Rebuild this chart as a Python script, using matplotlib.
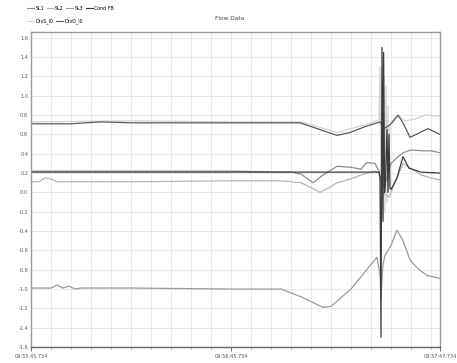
import matplotlib
matplotlib.use("Agg")
import matplotlib.pyplot as plt
from matplotlib.lines import Line2D

plt.rcParams["axes.unicode_minus"] = False

title = "Flow Data"
series_names = ["SL1", "SL2", "SL3", "Cond FB", "DrvS_I0", "DrvD_I0"]
x_tick_labels = ["09:55:45.734", "09:56:45.734", "09:57:47.734"]
x_tick_pos = [0, 10, 20.45]
y_ticks = [1.6, 1.4, 1.2, 1.0, 0.8, 0.6, 0.4, 0.2, 0.0, -0.2, -0.4, -0.6,
           -0.8, -1.0, -1.2, -1.4, -1.6]

# SL1 (medium gray, around 0.2, ends near 0.4)
sl1_x = [0, 1.0, 5, 10, 13.0, 13.5, 14.1, 14.6, 15.3, 16.0, 16.5, 16.8, 17.2, 17.4,
         17.6, 17.8, 18.0, 18.3, 18.6, 19.0, 19.6, 20.0, 20.45]
sl1_y = [0.22, 0.22, 0.22, 0.22, 0.21, 0.19, 0.1, 0.18, 0.27, 0.26, 0.24, 0.31, 0.3, 0.22,
         0.05, 0.15, 0.3, 0.36, 0.41, 0.44, 0.43, 0.43, 0.41]
# SL2 (light gray, around 0.11)
sl2_x = [0, 0.4, 0.7, 1.0, 1.3, 1.6, 5, 10, 12.5, 13.5, 14.0, 14.45, 15.0, 15.3, 16.0,
         16.5, 17.2, 17.4, 17.6, 17.9, 18.2, 18.6, 19.0, 19.5, 20.0, 20.45]
sl2_y = [0.11, 0.11, 0.15, 0.14, 0.11, 0.11, 0.11, 0.12, 0.12, 0.1, 0.05, 0.0, 0.06, 0.1,
         0.14, 0.18, 0.22, 0.2, 0.0, -0.05, 0.1, 0.3, 0.25, 0.18, 0.15, 0.13]
# SL3 (medium gray, around -1.0)
sl3_x = [0, 1.0, 1.3, 1.6, 1.9, 2.2, 2.5, 5, 10, 12.5, 13.5, 14.6, 15.0, 16.0, 17.3,
         17.45, 17.5, 17.55, 17.6, 17.7, 18.0, 18.3, 18.6, 18.95, 19.4, 19.8, 20.45]
sl3_y = [-0.99, -0.99, -0.96, -0.99, -0.97, -1.0, -0.99, -0.99, -1.0, -1.0, -1.08, -1.19,
         -1.18, -1.0, -0.67, -0.85, -1.1, -0.9, -0.75, -0.65, -0.55, -0.39, -0.5, -0.7,
         -0.8, -0.86, -0.89]
# Cond FB (dark, flat 0.21 with big spike)
cfb_x = [0, 5, 10, 15, 17.4, 17.45, 17.5, 17.55, 17.6, 17.63, 17.68, 17.72, 17.8, 17.85,
         17.9, 17.95, 18.0, 18.3, 18.6, 18.9, 19.5, 20.45]
cfb_y = [0.21, 0.21, 0.21, 0.21, 0.21, 0.15, -1.5, 1.5, -0.3, 1.45, 0.0, 0.1, 0.65, 0.0,
         0.6, 0.05, 0.03, 0.15, 0.37, 0.25, 0.21, 0.2]
# DrvS_I0 (very light, near top line, fast oscillation at the event)
drs_x = [0, 5, 10, 13.5, 14.5, 15.3, 16.0, 16.7, 17.4, 17.45, 17.5, 17.55, 17.6, 17.65,
         17.7, 17.75, 17.8, 17.85, 17.9, 17.95, 18.1, 18.35, 18.7, 19.2, 19.7, 20.45]
drs_y = [0.73, 0.74, 0.73, 0.73, 0.67, 0.62, 0.66, 0.7, 0.75, 1.3, -0.3, 1.25, -0.25,
         1.2, -0.2, 1.1, -0.1, 0.9, 0.0, 0.7, 0.72, 0.8, 0.74, 0.76, 0.8, 0.79]
# DrvD_I0 (dark, top line around 0.72)
drd_x = [0, 2.0, 3.5, 5, 8.5, 12.5, 13.45, 14.45, 15.3, 15.95, 16.7, 17.45, 17.65, 17.95,
         18.35, 18.6, 18.95, 19.45, 19.85, 20.25, 20.45]
drd_y = [0.71, 0.71, 0.73, 0.72, 0.72, 0.72, 0.72, 0.65, 0.59, 0.62, 0.68, 0.73, 0.66, 0.7,
         0.8, 0.72, 0.57, 0.62, 0.66, 0.62, 0.6]

colors = ["#8c8c8c", "#b4b4b4", "#9a9a9a", "#3c3c3c", "#d2d2d2", "#5a5a5a"]
xs = [sl1_x, sl2_x, sl3_x, cfb_x, drs_x, drd_x]
ys = [sl1_y, sl2_y, sl3_y, cfb_y, drs_y, drd_y]

fig = plt.figure(figsize=(4.57, 3.63), dpi=100)
ax = fig.add_axes([31 / 457, 1 - 347 / 363, (440 - 31) / 457, (347 - 32) / 363])

draw_order = [4, 1, 0, 2, 5, 3]
for i in draw_order:
    ax.plot(xs[i], ys[i], color=colors[i], lw=0.9)

ax.set_xlim(0, 20.45)
ax.set_ylim(-1.6, 1.66)
ax.set_yticks(y_ticks)
ax.set_yticklabels([f"{v:.1f}" for v in y_ticks])
ax.set_xticks(x_tick_pos)
ax.set_xticklabels(x_tick_labels)
ax.set_xticks(list(range(0, 21)), minor=True)
ax.set_yticks([], minor=True)
ax.grid(True, which="both", axis="x", color="#e6e6e6", lw=0.6)
ax.grid(True, which="major", axis="y", color="#e6e6e6", lw=0.6)
ax.set_axisbelow(True)
ax.tick_params(axis="both", which="major", labelsize=3.6, colors="#555555", length=3,
               width=0.6, pad=2)
ax.tick_params(axis="x", which="minor", length=1.5, width=0.5, color="#888888")
ax.tick_params(axis="y", length=0)
for s in ax.spines.values():
    s.set_color("#9a9a9a")
    s.set_linewidth(1.0)
ax.spines["bottom"].set_color("#666666")

fig.text(230 / 457, 1 - 18 / 363, title, fontsize=4.2, color="#444444",
         ha="center", va="center")

h1 = [Line2D([], [], color=colors[i], lw=0.8) for i in range(4)]
h2 = [Line2D([], [], color=colors[i], lw=0.8) for i in range(4, 6)]
fig.legend(h1, series_names[:4], loc="center left", bbox_to_anchor=(25 / 457, 1 - 8 / 363),
           ncol=4, fontsize=3.4, frameon=False, handlelength=1.5, handletextpad=0.2,
           columnspacing=0.6, borderpad=0)
fig.legend(h2, series_names[4:], loc="center left", bbox_to_anchor=(25 / 457, 1 - 21 / 363),
           ncol=2, fontsize=3.4, frameon=False, handlelength=1.5, handletextpad=0.2,
           columnspacing=0.6, borderpad=0)

fig.savefig("out.png", dpi=100)
